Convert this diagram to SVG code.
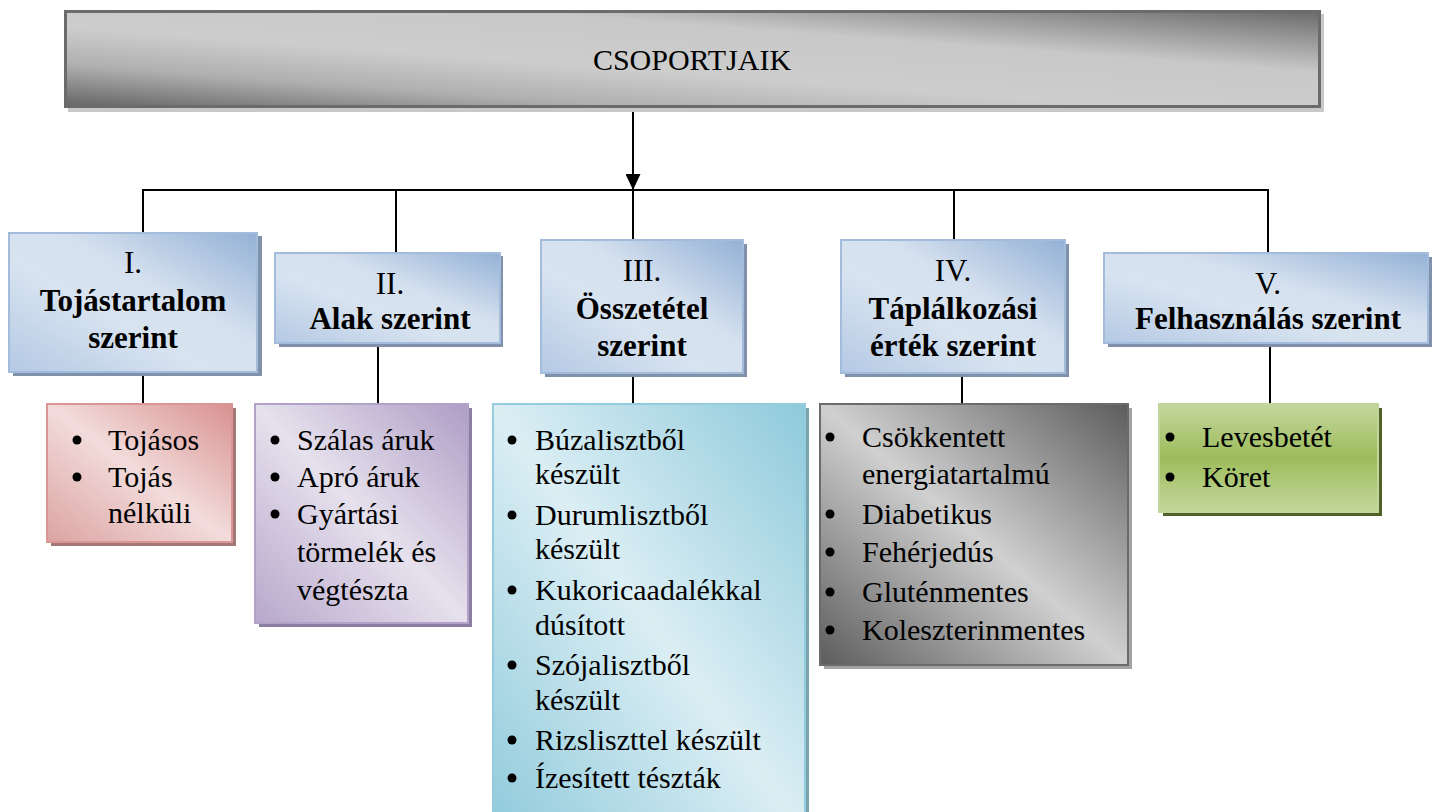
<svg xmlns="http://www.w3.org/2000/svg" width="1435" height="812" viewBox="0 0 1435 812">
<defs>
<linearGradient id="gTop" x1="0" y1="1" x2="1" y2="0">
<stop offset="0" stop-color="#646464"/>
<stop offset="0.22" stop-color="#afafaf"/>
<stop offset="0.42" stop-color="#cdcdcd"/>
<stop offset="0.68" stop-color="#c8c8c8"/>
<stop offset="0.88" stop-color="#8e8e8e"/>
<stop offset="1" stop-color="#6a6a6a"/>
</linearGradient>
<linearGradient id="gBlue" x1="0" y1="1" x2="1" y2="0">
<stop offset="0" stop-color="#b4c9e4"/>
<stop offset="0.4" stop-color="#d8e3f0"/>
<stop offset="0.6" stop-color="#d6e1ef"/>
<stop offset="1" stop-color="#93b1d6"/>
</linearGradient>
<linearGradient id="gPink" x1="0" y1="1" x2="1" y2="0">
<stop offset="0" stop-color="#dba3a2"/>
<stop offset="0.5" stop-color="#f2dcdb"/>
<stop offset="1" stop-color="#d89190"/>
</linearGradient>
<linearGradient id="gPurple" x1="0" y1="1" x2="1" y2="0">
<stop offset="0" stop-color="#b7a7cb"/>
<stop offset="0.5" stop-color="#e6e1ed"/>
<stop offset="1" stop-color="#ae9dc5"/>
</linearGradient>
<linearGradient id="gCyan" x1="0" y1="1" x2="1" y2="0">
<stop offset="0" stop-color="#8fcadb"/>
<stop offset="0.5" stop-color="#dbeef4"/>
<stop offset="1" stop-color="#8ecadb"/>
</linearGradient>
<linearGradient id="gGray" x1="0" y1="1" x2="1" y2="0">
<stop offset="0" stop-color="#5c5c5c"/>
<stop offset="0.5" stop-color="#d0d0d0"/>
<stop offset="1" stop-color="#5c5c5c"/>
</linearGradient>
<linearGradient id="gGreen" x1="0" y1="0" x2="0" y2="1">
<stop offset="0" stop-color="#c4d79d"/>
<stop offset="0.5" stop-color="#9dbc5b"/>
<stop offset="1" stop-color="#c4d79d"/>
</linearGradient>
<marker id="arr" markerWidth="16" markerHeight="15" refX="16" refY="7.5" orient="auto" markerUnits="userSpaceOnUse">
<path d="M0,0 L16,7.5 L0,15 Z" fill="#000"/>
</marker>
</defs>
<rect width="1435" height="812" fill="#fff"/>

<g id="connectors" stroke="#000" stroke-width="2" fill="none">
<line x1="633" y1="107" x2="633" y2="190" marker-end="url(#arr)"/>
<line x1="142" y1="190" x2="1269" y2="190"/>
<line x1="143" y1="189" x2="143" y2="232"/>
<line x1="396" y1="189" x2="396" y2="252"/>
<line x1="633" y1="190" x2="633" y2="240"/>
<line x1="954" y1="189" x2="954" y2="240"/>
<line x1="1268" y1="189" x2="1268" y2="253"/>
<line x1="143" y1="372" x2="143" y2="404"/>
<line x1="378" y1="343" x2="378" y2="404"/>
<line x1="633" y1="373" x2="633" y2="404"/>
<line x1="962" y1="373" x2="962" y2="404"/>
<line x1="1270" y1="343" x2="1270" y2="404"/>
</g>

<g id="root">
<rect x="68" y="14" width="1256" height="98" fill="#c8c8c8"/>
<rect x="65.5" y="11.5" width="1254" height="95" fill="url(#gTop)" stroke="#6b6b6b" stroke-width="3"/>
<text x="692" y="70" font-family="Liberation Serif" font-size="30" text-anchor="middle">CSOPORTJAIK</text>
</g>

<g id="h1">
<rect x="13" y="236" width="249" height="140" fill="#7f91ab"/>
<rect x="9" y="233" width="248" height="139" fill="url(#gBlue)" stroke="#a3bcdc" stroke-width="2"/>
<text x="133" y="273" font-family="Liberation Serif" font-size="31" text-anchor="middle">I.</text>
<text x="133" y="311" font-family="Liberation Serif" font-size="31" font-weight="bold" text-anchor="middle">Tojástartalom</text>
<text x="133" y="348" font-family="Liberation Serif" font-size="31" font-weight="bold" text-anchor="middle">szerint</text>
</g>

<g id="h2">
<rect x="279" y="256" width="224" height="91" fill="#7f91ab"/>
<rect x="275" y="253" width="225" height="90" fill="url(#gBlue)" stroke="#a3bcdc" stroke-width="2"/>
<text x="390" y="294" font-family="Liberation Serif" font-size="31" text-anchor="middle">II.</text>
<text x="390" y="329" font-family="Liberation Serif" font-size="31" font-weight="bold" text-anchor="middle">Alak szerint</text>
</g>

<g id="h3">
<rect x="545" y="244" width="202" height="133" fill="#7f91ab"/>
<rect x="541" y="240" width="202" height="133" fill="url(#gBlue)" stroke="#a3bcdc" stroke-width="2"/>
<text x="642" y="281" font-family="Liberation Serif" font-size="31" text-anchor="middle">III.</text>
<text x="642" y="319" font-family="Liberation Serif" font-size="31" font-weight="bold" text-anchor="middle">Összetétel</text>
<text x="642" y="356" font-family="Liberation Serif" font-size="31" font-weight="bold" text-anchor="middle">szerint</text>
</g>

<g id="h4">
<rect x="845" y="244" width="224" height="133" fill="#7f91ab"/>
<rect x="841" y="240" width="224" height="133" fill="url(#gBlue)" stroke="#a3bcdc" stroke-width="2"/>
<text x="953" y="281" font-family="Liberation Serif" font-size="31" text-anchor="middle">IV.</text>
<text x="953" y="319" font-family="Liberation Serif" font-size="31" font-weight="bold" text-anchor="middle">Táplálkozási</text>
<text x="953" y="356" font-family="Liberation Serif" font-size="31" font-weight="bold" text-anchor="middle">érték szerint</text>
</g>

<g id="h5">
<rect x="1108" y="257" width="324" height="90" fill="#7f91ab"/>
<rect x="1104" y="253" width="324" height="90" fill="url(#gBlue)" stroke="#a3bcdc" stroke-width="2"/>
<text x="1268" y="294" font-family="Liberation Serif" font-size="31" text-anchor="middle">V.</text>
<text x="1268" y="329" font-family="Liberation Serif" font-size="31" font-weight="bold" text-anchor="middle">Felhasználás szerint</text>
</g>

<g id="l1">
<rect x="51" y="408" width="185" height="138" fill="#a57877"/>
<rect x="47" y="404" width="185" height="138" fill="url(#gPink)" stroke="#d99694" stroke-width="2"/>
<circle cx="77" cy="440" r="4.5" fill="#000"/>
<circle cx="77" cy="477" r="4.5" fill="#000"/>
<text x="108" y="450" font-family="Liberation Serif" font-size="30">Tojásos</text>
<text x="108" y="487" font-family="Liberation Serif" font-size="30">Tojás</text>
<text x="108" y="523" font-family="Liberation Serif" font-size="30">nélküli</text>
</g>

<g id="l2">
<rect x="259" y="408" width="213" height="219" fill="#8b7ea3"/>
<rect x="255" y="404" width="213" height="219" fill="url(#gPurple)" stroke="#b2a2c7" stroke-width="2"/>
<circle cx="275" cy="440" r="4.5" fill="#000"/>
<circle cx="275" cy="477" r="4.5" fill="#000"/>
<circle cx="275" cy="514" r="4.5" fill="#000"/>
<text x="297" y="450" font-family="Liberation Serif" font-size="30">Szálas áruk</text>
<text x="297" y="487" font-family="Liberation Serif" font-size="30">Apró áruk</text>
<text x="297" y="524" font-family="Liberation Serif" font-size="30">Gyártási</text>
<text x="297" y="562" font-family="Liberation Serif" font-size="30">törmelék és</text>
<text x="297" y="600" font-family="Liberation Serif" font-size="30">végtészta</text>
</g>

<g id="l3">
<rect x="497" y="408" width="312" height="430" fill="#7aa3ae"/>
<rect x="493" y="404" width="312" height="430" fill="url(#gCyan)" stroke="#93cddd" stroke-width="2"/>
<circle cx="512" cy="440" r="4.5" fill="#000"/>
<circle cx="512" cy="515" r="4.5" fill="#000"/>
<circle cx="512" cy="590" r="4.5" fill="#000"/>
<circle cx="512" cy="665" r="4.5" fill="#000"/>
<circle cx="512" cy="740" r="4.5" fill="#000"/>
<circle cx="512" cy="778" r="4.5" fill="#000"/>
<text x="535" y="450" font-family="Liberation Serif" font-size="30">Búzalisztből</text>
<text x="535" y="484" font-family="Liberation Serif" font-size="30">készült</text>
<text x="535" y="525" font-family="Liberation Serif" font-size="30">Durumlisztből</text>
<text x="535" y="559" font-family="Liberation Serif" font-size="30">készült</text>
<text x="535" y="600" font-family="Liberation Serif" font-size="30">Kukoricaadalékkal</text>
<text x="535" y="635" font-family="Liberation Serif" font-size="30">dúsított</text>
<text x="535" y="675" font-family="Liberation Serif" font-size="30">Szójalisztből</text>
<text x="535" y="710" font-family="Liberation Serif" font-size="30">készült</text>
<text x="535" y="750" font-family="Liberation Serif" font-size="30">Rizsliszttel készült</text>
<text x="535" y="788" font-family="Liberation Serif" font-size="30">Ízesített tészták</text>
</g>

<g id="l4">
<rect x="824" y="408" width="308" height="261" fill="#a3a3a3"/>
<rect x="820" y="404" width="308" height="261" fill="url(#gGray)" stroke="#6b6b6b" stroke-width="2"/>
<circle cx="830" cy="437" r="4.5" fill="#000"/>
<circle cx="830" cy="514" r="4.5" fill="#000"/>
<circle cx="830" cy="552" r="4.5" fill="#000"/>
<circle cx="830" cy="592" r="4.5" fill="#000"/>
<circle cx="830" cy="630" r="4.5" fill="#000"/>
<text x="862" y="447" font-family="Liberation Serif" font-size="30">Csökkentett</text>
<text x="862" y="484" font-family="Liberation Serif" font-size="30">energiatartalmú</text>
<text x="862" y="524" font-family="Liberation Serif" font-size="30">Diabetikus</text>
<text x="862" y="562" font-family="Liberation Serif" font-size="30">Fehérjedús</text>
<text x="862" y="602" font-family="Liberation Serif" font-size="30">Gluténmentes</text>
<text x="862" y="640" font-family="Liberation Serif" font-size="30">Koleszterinmentes</text>
</g>

<g id="l5">
<rect x="1163" y="408" width="219" height="108" fill="#4f6228"/>
<rect x="1159" y="404" width="219" height="108" fill="url(#gGreen)" stroke="#c2d69b" stroke-width="2"/>
<circle cx="1170" cy="437" r="4.5" fill="#000"/>
<circle cx="1170" cy="477" r="4.5" fill="#000"/>
<text x="1202" y="447" font-family="Liberation Serif" font-size="30">Levesbetét</text>
<text x="1202" y="487" font-family="Liberation Serif" font-size="30">Köret</text>
</g>
</svg>
